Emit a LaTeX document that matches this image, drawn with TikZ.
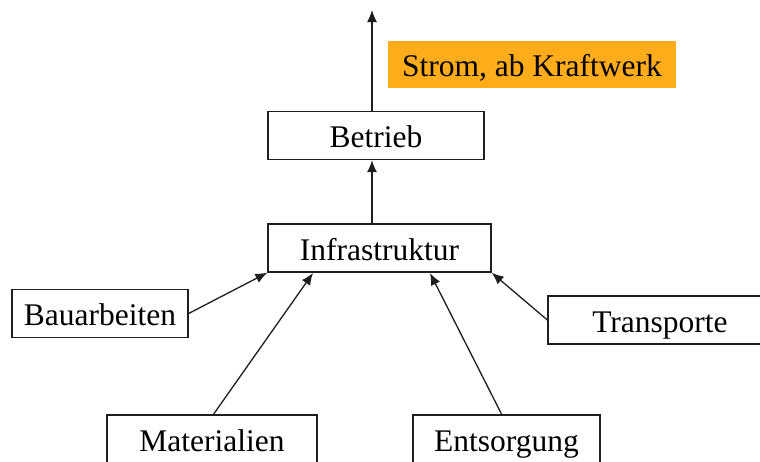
\documentclass[tikz,border=0pt]{standalone}
\usepackage{fontspec}
\setmainfont{Liberation Serif}
\usetikzlibrary{arrows.meta}
\definecolor{strombg}{RGB}{255,172,26}
\definecolor{linecol}{RGB}{30,30,30}
\tikzset{
  box/.style={draw=linecol, line width=1.3pt, fill=white, inner sep=0pt,
    font=\fontsize{31.5}{36}\selectfont, text height=36pt, text depth=12pt},
  labelbox/.style={fill=strombg, inner sep=0pt,
    font=\fontsize{31.5}{36}\selectfont, text height=35pt, text depth=12pt},
  conn/.style={draw=linecol, line width=1.3pt, -{Latex[length=12pt,width=10pt]}}
}
\begin{document}
\begin{tikzpicture}[x=1pt,y=-1pt]
\useasboundingbox (0,0) rectangle (760,461);
\clip (0,0) rectangle (760,461);
\fill[white] (0,0) rectangle (760,461);

\node[labelbox, minimum width=288pt] (strom) at (532,64.5) {Strom, ab Kraftwerk};
\node[box, minimum width=216pt] (betrieb) at (376,135.5) {Betrieb};
\node[box, minimum width=223pt] (infra) at (379.5,248) {Infrastruktur};
\node[box, minimum width=176pt] (bau) at (100,313.5) {Bauarbeiten};
\node[box, minimum width=224pt] (trans) at (660,320) {Transporte};
\node[box, minimum width=210pt] (mat) at (212,439) {Materialien};
\node[box, minimum width=187pt] (ents) at (506.5,439) {Entsorgung};

\coordinate (top) at (372,10);
\coordinate (mtip) at (313,273);
\coordinate (etip) at (430,273);
\coordinate (mstart) at (213,415);
\coordinate (estart) at (502,415);

\draw[conn] (top |- betrieb.north) -- (top);
\draw[conn] (top |- infra.north) -- (top |- betrieb.south);
\draw[conn] (bau.east) -- (infra.south west);
\draw[conn] (mstart) -- (mtip);
\draw[conn] (estart) -- (etip);
\draw[conn] (trans.west) -- (infra.south east);
\end{tikzpicture}
\end{document}
